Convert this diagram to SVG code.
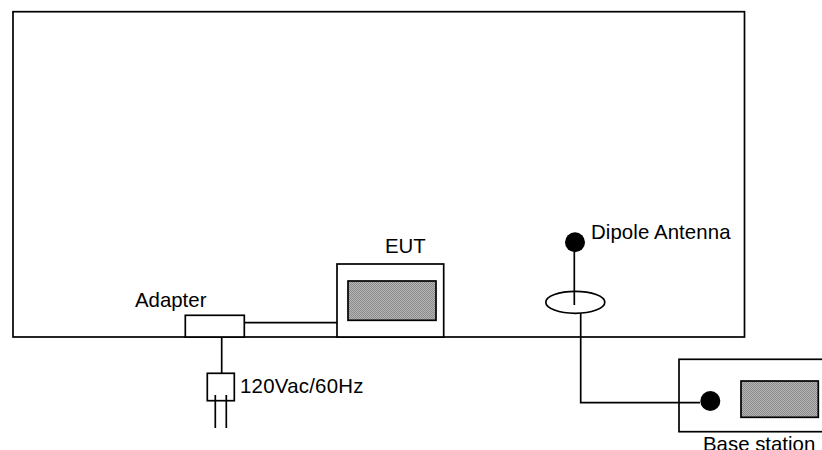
<svg xmlns="http://www.w3.org/2000/svg" width="822" height="450" viewBox="0 0 822 450">
<style>
.l{fill:none;stroke:#000;stroke-width:1.7}
.w{fill:#fff;stroke:#000;stroke-width:1.7}
.s{fill:url(#d);stroke:#000;stroke-width:1.7}
.b{fill:#000;stroke:none}
text{font-family:"Liberation Sans",Arial,sans-serif;font-size:20.4px;fill:#000}
</style>
<defs><pattern id="d" width="2" height="2" patternUnits="userSpaceOnUse"><rect width="2" height="2" fill="#b8b8b8"/><rect width="1" height="1" fill="#888"/><rect x="1" y="1" width="1" height="1" fill="#888"/></pattern></defs>
<rect fill="#fff" width="822" height="450"/>
<g id="room"><rect class="l" x="13" y="11.7" width="731.5" height="325.3"/></g>
<g id="connectors">
<path class="l" d="M244 322.7H337"/>
<path class="l" d="M221.7 337V373"/>
<path class="l" d="M574.3 252V305"/>
<path class="l" d="M580.7 313V402.7H700"/>
</g>
<g id="adapter"><rect class="w" x="185.3" y="315.3" width="59" height="21.7"/><text x="135" y="306.7">Adapter</text></g>
<g id="eut"><rect class="w" x="337" y="264" width="106.7" height="73"/><rect class="s" x="348" y="281" width="88" height="39.3"/><text x="385" y="252.7">EUT</text></g>
<g id="plug"><rect class="l" x="207.3" y="373.3" width="27" height="27.4"/><path class="l" d="M215.3 395V428M226.3 395V428"/><text x="240" y="393.3" textLength="123.5">120Vac/60Hz</text></g>
<g id="antenna"><circle class="b" cx="575" cy="242.3" r="10"/><ellipse class="l" cx="575.3" cy="302.3" rx="29.5" ry="11"/><text x="591" y="239" textLength="139.5">Dipole Antenna</text></g>
<g id="base"><rect class="l" x="679" y="359.3" width="150" height="72.4"/><circle class="b" cx="710.3" cy="401" r="10"/><rect class="s" x="741" y="381" width="77.3" height="36.3"/><text x="703" y="451">Base station</text></g>
</svg>
